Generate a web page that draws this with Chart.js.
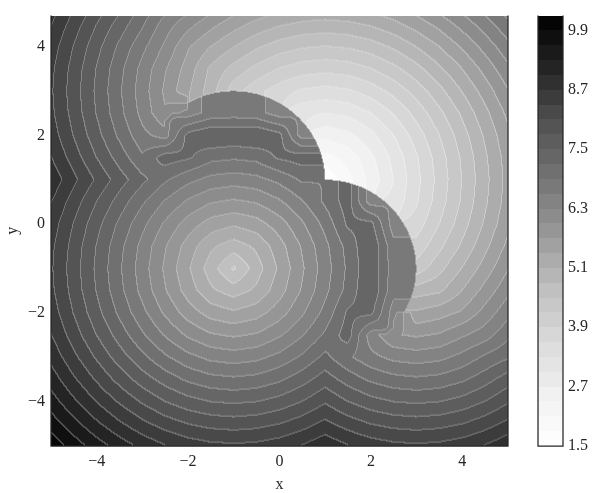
<!DOCTYPE html>
<html>
<head>
<meta charset="utf-8">
<script src="https://cdn.jsdelivr.net/npm/chart.js@4.4.1/dist/chart.umd.min.js"></script>
<style>
  html, body { margin: 0; padding: 0; background: #fff; }
  canvas { display: block; }
</style>
</head>
<body>
<canvas id="contour" width="592" height="493"></canvas>
<script>
// grid the field was read on, 0.5 apart
const gridX = [-5, -4.5, -4, -3.5, -3, -2.5, -2, -1.5, -1, -0.5, 0, 0.5, 1, 1.5, 2, 2.5, 3, 3.5, 4, 4.5, 5];
const gridY = [-5, -4.5, -4, -3.5, -3, -2.5, -2, -1.5, -1, -0.5, 0, 0.5, 1, 1.5, 2, 2.5, 3, 3.5, 4, 4.5, 5];

// values, one row per y (bottom row first)
const fieldRows = [
  [10.11,9.77,9.45,9.17,8.92,8.72,8.57,8.48,8.45,8.48,8.57,8.72,8.92,8.72,8.57,8.48,8.45,8.48,8.57,8.72,8.92],
  [9.77,9.40,9.06,8.75,8.48,8.26,8.09,7.99,7.95,7.99,8.09,8.26,8.48,8.26,8.09,7.99,7.95,7.99,8.09,8.26,8.48],
  [9.45,9.06,8.69,8.36,8.06,7.80,7.61,7.49,7.45,7.49,7.61,7.80,8.06,7.80,7.61,7.49,7.45,7.49,7.61,7.80,8.06],
  [9.17,8.75,8.36,7.99,7.65,7.37,7.14,7.00,6.95,7.00,7.14,7.37,7.65,7.37,7.14,7.00,6.95,7.00,7.14,7.37,7.65],
  [8.92,8.48,8.06,7.65,7.28,6.95,6.69,6.51,6.45,6.51,6.69,6.95,7.28,6.95,6.69,6.51,6.45,6.51,6.69,6.95,7.16],
  [8.72,8.26,7.80,7.37,6.95,6.57,6.25,6.03,5.95,6.03,6.25,6.57,6.95,7.35,6.45,6.03,5.95,6.03,6.25,6.45,6.82],
  [8.57,8.09,7.61,7.14,6.69,6.25,5.86,5.57,5.45,5.57,5.86,6.25,6.69,7.25,7.30,6.45,5.45,5.57,5.74,6.11,6.50],
  [8.48,7.99,7.49,7.00,6.51,6.03,5.57,5.16,4.95,5.16,5.57,6.03,6.51,7.00,7.49,6.70,4.95,5.04,5.40,5.80,6.22],
  [8.45,7.95,7.45,6.95,6.45,5.95,5.45,4.95,4.45,4.95,5.45,5.95,6.45,6.95,7.45,6.75,4.33,4.70,5.11,5.53,5.97],
  [8.48,7.99,7.49,7.00,6.51,6.03,5.57,5.16,4.95,5.16,5.57,6.03,6.51,7.00,7.49,6.70,4.00,4.42,4.85,5.31,5.77],
  [8.57,8.09,7.61,7.14,6.69,6.25,5.86,5.57,5.45,5.57,5.86,6.25,6.69,7.25,7.30,6.45,3.74,4.19,4.66,5.14,5.62],
  [8.72,8.26,7.80,7.37,6.95,6.57,6.25,6.03,5.95,6.03,6.25,6.57,6.95,7.35,6.45,3.08,3.56,4.05,4.54,5.04,5.53],
  [8.92,8.48,8.06,7.65,7.28,6.95,6.69,6.51,6.45,6.51,6.69,6.95,1.50,2.00,2.50,3.00,3.50,4.00,4.50,5.00,5.50],
  [8.72,8.26,7.80,7.37,6.95,7.35,7.25,7.00,6.95,7.00,7.25,7.35,2.00,2.21,2.62,3.08,3.56,4.05,4.54,5.04,5.53],
  [8.57,8.09,7.61,7.14,6.69,6.45,7.30,7.49,7.45,7.49,7.30,6.45,2.50,2.62,2.91,3.30,3.74,4.19,4.66,5.14,5.62],
  [8.48,7.99,7.49,7.00,6.51,6.03,6.45,6.70,6.75,6.70,6.45,3.08,3.00,3.08,3.30,3.62,4.00,4.42,4.85,5.31,5.77],
  [8.45,7.95,7.45,6.95,6.45,5.95,5.45,4.95,4.33,4.00,3.74,3.56,3.50,3.56,3.74,4.00,4.33,4.70,5.11,5.53,5.97],
  [8.48,7.99,7.49,7.00,6.51,6.03,5.57,5.04,4.70,4.42,4.19,4.05,4.00,4.05,4.19,4.42,4.70,5.04,5.40,5.80,6.22],
  [8.57,8.09,7.61,7.14,6.69,6.25,5.74,5.40,5.11,4.85,4.66,4.54,4.50,4.54,4.66,4.85,5.11,5.40,5.74,6.11,6.50],
  [8.72,8.26,7.80,7.37,6.95,6.45,6.11,5.80,5.53,5.31,5.14,5.04,5.00,5.04,5.14,5.31,5.53,5.80,6.11,6.45,6.82],
  [8.92,8.48,8.06,7.65,7.16,6.82,6.50,6.22,5.97,5.77,5.62,5.53,5.50,5.53,5.62,5.77,5.97,6.22,6.50,6.82,7.16]
];

// edges where the field jumps: [cx, cy, r] in data units
const jumpCircles = [[-1, 1, 2], [1, -1, 2]];

// contour levels and tick labels
const levels = [1.5, 1.8, 2.1, 2.4, 2.7, 3.0, 3.3, 3.6, 3.9, 4.2, 4.5, 4.8, 5.1, 5.4, 5.7,
                6.0, 6.3, 6.6, 6.9, 7.2, 7.5, 7.8, 8.1, 8.4, 8.7, 9.0, 9.3, 9.6, 9.9, 10.2];
const cbarTicks = [1.5, 2.7, 3.9, 5.1, 6.3, 7.5, 8.7, 9.9];
const xTicks = [-4, -2, 0, 2, 4];
const yTicks = [-4, -2, 0, 2, 4];

// "Greys" colormap stops
const greys = [255, 240, 217, 189, 150, 115, 82, 37, 0];
const inkColor = '#262626';
const serif = "'Liberation Serif', 'DejaVu Serif', serif";

const greyAt = t => {
  t = Math.min(1, Math.max(0, t)) * 8;
  const k = Math.min(7, Math.floor(t));
  return Math.round(greys[k] + (greys[k + 1] - greys[k]) * (t - k));
};
const lo = levels[0], hi = levels[levels.length - 1];
const bandGrey = levels.slice(0, -1).map((l, b) => greyAt(((l + levels[b + 1]) / 2 - lo) / (hi - lo)));

const bandOf = v => {
  let b = 0;
  while (b < levels.length - 2 && v >= levels[b + 1]) b++;
  return b;
};

const inJump = (x, y) => jumpCircles.some(([cx, cy, r]) => (x - cx) ** 2 + (y - cy) ** 2 < r * r - 1e-9);
const nodeIn = gridY.map(yv => gridX.map(xv => inJump(xv, yv)));

// bilinear inside one cell; where a cell straddles a real jump, only mix nodes on the same side
function sample(x, y) {
  const sx = gridX[1] - gridX[0], sy = gridY[1] - gridY[0];
  const fi = (x - gridX[0]) / sx, fj = (y - gridY[0]) / sy;
  const i = Math.min(gridX.length - 2, Math.max(0, Math.floor(fi)));
  const j = Math.min(gridY.length - 2, Math.max(0, Math.floor(fj)));
  const tx = fi - i, ty = fj - j;
  const nodes = [[i, j, (1 - tx) * (1 - ty)], [i + 1, j, tx * (1 - ty)], [i, j + 1, (1 - tx) * ty], [i + 1, j + 1, tx * ty]];
  let jump = 0;
  nodes.forEach(([a, b]) => nodes.forEach(([c, d]) => {
    if (nodeIn[b][a] !== nodeIn[d][c]) jump = Math.max(jump, Math.abs(fieldRows[b][a] - fieldRows[d][c]));
  }));
  let s = 0, w = 0;
  if (jump > 1.0) {
    const side = inJump(x, y);
    nodes.forEach(([a, b, wt]) => {
      if (nodeIn[b][a] === side) { s += wt * fieldRows[b][a]; w += wt; }
    });
  }
  if (w < 1e-6) {
    s = 0; w = 0;
    nodes.forEach(([a, b, wt]) => { s += wt * fieldRows[b][a]; w += wt; });
  }
  return s / w;
}

const fieldPoints = gridY.flatMap((yv, j) => gridX.map((xv, i) => ({ x: xv, y: yv, v: fieldRows[j][i] })));

const fmt = v => (v < 0 ? '\u2212' : '') + Math.abs(v);

const contourPlugin = {
  id: 'contourFill',
  beforeDatasetsDraw(chart) {
    const { ctx, chartArea: a, scales: { x, y } } = chart;
    const w = Math.round(a.right - a.left), h = Math.round(a.bottom - a.top);
    const band = new Int16Array(w * h);
    for (let py = 0; py < h; py++) {
      const dy = y.getValueForPixel(a.top + py + 0.5);
      for (let px = 0; px < w; px++) {
        const dx = x.getValueForPixel(a.left + px + 0.5);
        band[py * w + px] = bandOf(sample(dx, dy));
      }
    }
    const off = document.createElement('canvas');
    off.width = w; off.height = h;
    const octx = off.getContext('2d');
    const img = octx.createImageData(w, h);
    for (let py = 0; py < h; py++) {
      for (let px = 0; px < w; px++) {
        const k = py * w + px;
        let g = bandGrey[band[k]];
        const seam = (px < w - 1 && band[k + 1] !== band[k]) || (py < h - 1 && band[k + w] !== band[k]);
        if (seam) g = g + (255 - g) * 0.3;
        img.data[k * 4] = g; img.data[k * 4 + 1] = g; img.data[k * 4 + 2] = g; img.data[k * 4 + 3] = 255;
      }
    }
    octx.putImageData(img, 0, 0);
    ctx.drawImage(off, a.left, a.top);
  },
  afterDatasetsDraw(chart) {
    const { ctx, chartArea: a } = chart;
    ctx.save();
    ctx.strokeStyle = inkColor;
    ctx.lineWidth = 1.25;
    ctx.beginPath();
    ctx.moveTo(a.left, a.top); ctx.lineTo(a.left, a.bottom);
    ctx.lineTo(a.right, a.bottom); ctx.lineTo(a.right, a.top);
    ctx.stroke();
    ctx.restore();
  },
  afterDraw(chart) {
    const { ctx } = chart;
    const cb = chart.scales.cb;
    const bx = 538, bw = 25;
    ctx.save();
    for (let b = 0; b < levels.length - 1; b++) {
      const yTop = Math.round(cb.getPixelForValue(levels[b + 1]));
      const yBot = Math.round(cb.getPixelForValue(levels[b]));
      const g = bandGrey[b];
      ctx.fillStyle = `rgb(${g},${g},${g})`;
      ctx.fillRect(bx, yTop, bw, yBot - yTop);
    }
    const top = cb.getPixelForValue(hi), bottom = cb.getPixelForValue(lo);
    ctx.strokeStyle = inkColor;
    ctx.lineWidth = 1.25;
    ctx.beginPath();
    ctx.moveTo(bx, top); ctx.lineTo(bx, bottom); ctx.lineTo(bx + bw, bottom); ctx.lineTo(bx + bw, top);
    ctx.stroke();
    ctx.fillStyle = inkColor;
    ctx.font = `16px ${serif}`;
    ctx.textAlign = 'left';
    ctx.textBaseline = 'middle';
    cbarTicks.forEach(t => ctx.fillText(t.toFixed(1), bx + bw + 5, cb.getPixelForValue(t)));
    ctx.restore();
  }
};

const axisFont = { family: serif, size: 16 };

new Chart(document.getElementById('contour'), {
  type: 'scatter',
  data: { datasets: [{ data: fieldPoints, pointRadius: 0, pointHoverRadius: 0 }] },
  options: {
    responsive: false,
    animation: false,
    events: [],
    layout: { padding: { left: 0, top: 6, right: 84, bottom: 0 } },
    plugins: { legend: { display: false }, tooltip: { enabled: false } },
    scales: {
      x: {
        type: 'linear', min: -5, max: 5,
        grid: { display: false, drawTicks: false },
        border: { display: false },
        afterBuildTicks: s => { s.ticks = xTicks.map(v => ({ value: v })); },
        afterFit: s => { s.height = 47; },
        ticks: { padding: 6, color: inkColor, font: axisFont, maxRotation: 0, callback: v => fmt(v) },
        title: { display: true, text: 'x', color: inkColor, font: { family: serif, size: 16, lineHeight: 1 }, padding: 0 }
      },
      y: {
        type: 'linear', min: -5, max: 4.7,
        grid: { display: false, drawTicks: false },
        border: { display: false },
        afterBuildTicks: s => { s.ticks = yTicks.map(v => ({ value: v })); },
        afterFit: s => { s.width = 51; },
        ticks: { padding: 6, color: inkColor, font: axisFont, callback: v => fmt(v) },
        title: { display: true, text: 'y', color: inkColor, font: { family: serif, size: 16, lineHeight: 1 }, padding: { top: 5, bottom: 0 } }
      },
      cb: { type: 'linear', position: 'right', display: false, min: lo, max: hi }
    }
  },
  plugins: [contourPlugin]
});
</script>
</body>
</html>
